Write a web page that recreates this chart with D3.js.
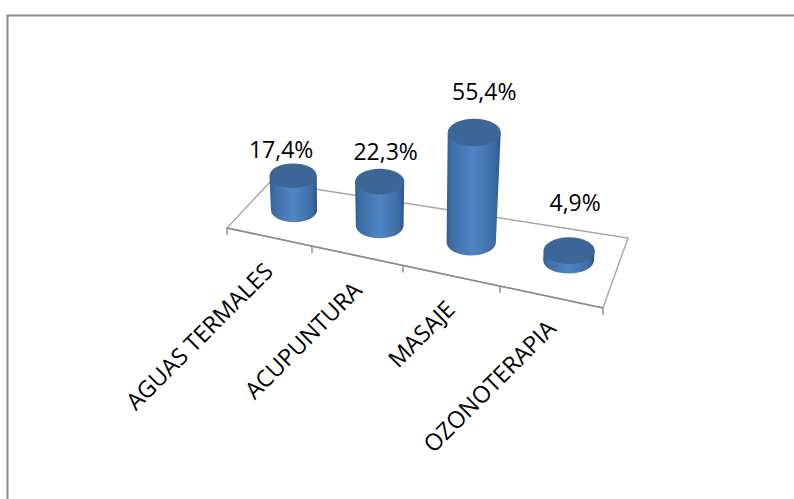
<!DOCTYPE html>
<html><head><meta charset="utf-8">
<style>html,body{margin:0;background:#fff}svg{display:block}text{font-family:"Open Sans",sans-serif;fill:#000}</style>
<script src="https://cdn.jsdelivr.net/npm/d3@7/dist/d3.min.js"></script>
</head><body><svg id="c" width="794" height="499"></svg>
<script>
const categories = ["AGUAS TERMALES","ACUPUNTURA","MASAJE","OZONOTERAPIA"];
const values = [17.4,22.3,55.4,4.9];
const valueLabels = ["17,4%","22,3%","55,4%","4,9%"];

const svg = d3.select("#c");
// floor quadrilateral in screen space: front-left, front-right, back-right, back-left
const A=[227,228],B=[603,308],C=[628,238],D=[270,182];
// foreshortening along the category axis
const along=d3.scaleLinear().domain([0,1,2,3,4]).range([0,0.226,0.468,0.726,1]);
const lerp=(p,q,t)=>[p[0]+(q[0]-p[0])*t,p[1]+(q[1]-p[1])*t];
const proj=(s,v)=>{const t=along(s);return lerp(lerp(A,B,t),lerp(D,C,t),v);};
const height=d3.scaleLinear().domain([0,55.4]).range([0,110]);
const depth=0.55;

const defs=svg.append("defs");
const grad=defs.append("linearGradient").attr("id","body");
[[0,"#305b90"],[0.08,"#3c6ca6"],[0.5,"#5085c5"],[0.88,"#3d6ca5"],[1,"#2d5587"]].forEach(s=>
  grad.append("stop").attr("offset",s[0]).attr("stop-color",s[1]));

// frame
svg.append("path").attr("d","M794,15.5H7.5V499").attr("fill","none").attr("stroke","#8c8c8c").attr("stroke-width",2);

// floor
svg.append("path").attr("d",d3.line()([A,B,C,D])+"Z").attr("fill","#fff").attr("stroke","#a6a6a6").attr("stroke-width",1.4);
svg.append("path").attr("d",d3.line()([A,B])).attr("stroke","#8c8c8c").attr("stroke-width",1.6);
// category ticks
svg.append("g").selectAll("line").data(d3.range(categories.length+1)).join("line")
  .attr("x1",s=>proj(s,0)[0]).attr("x2",s=>proj(s,0)[0])
  .attr("y1",s=>proj(s,0)[1]).attr("y2",s=>proj(s,0)[1]+7)
  .attr("stroke","#8c8c8c").attr("stroke-width",1.4);

// cylinders
const bars=categories.map((c,i)=>{
  const [px,by]=proj(i+0.5,depth);
  const bx=px+2;
  const w=proj(i+1,0)[0]-proj(i,0)[0];
  const rx=12+w*0.13, ry=rx*0.52, h=height(values[i]);
  const tx=bx+(bx-380)*h*0.0003, ty=by-h, trx=rx*(1+h*0.0007), try_=trx*0.52;
  return {bx,by,rx,ry,tx,ty,trx,try_,i};
});
const g=svg.append("g");
g.selectAll("path.side").data(bars).join("path").attr("class","side").attr("fill","url(#body)")
  .attr("d",d=>`M${d.tx-d.trx},${d.ty}L${d.bx-d.rx},${d.by}A${d.rx},${d.ry} 0 0 0 ${d.bx+d.rx},${d.by}L${d.tx+d.trx},${d.ty}Z`);
g.selectAll("ellipse.top").data(bars).join("ellipse").attr("class","top")
  .attr("cx",d=>d.tx).attr("cy",d=>d.ty).attr("rx",d=>d.trx).attr("ry",d=>d.try_)
  .attr("fill","#3d6595");

// value labels
const nudgeX=[-12,6,10,6], nudgeY=[-18,-21.5,-32.5,-39.5];
svg.append("g").selectAll("text").data(bars).join("text")
  .attr("x",d=>d.tx+nudgeX[d.i]).attr("y",d=>d.ty+nudgeY[d.i])
  .attr("text-anchor","middle").attr("font-size",23).text(d=>valueLabels[d.i]);

// category labels
const labelDx=[5,6,5,6], labelDy=[36,36,35,33];
svg.append("g").selectAll("text").data(categories).join("text")
  .attr("transform",(c,i)=>{
    const [x,y]=proj(i+0.5,0);
    return `translate(${x+labelDx[i]},${y+labelDy[i]}) rotate(-45)`;
  })
  .attr("text-anchor","end").attr("font-size",23.3).text(c=>c);
</script></body></html>
